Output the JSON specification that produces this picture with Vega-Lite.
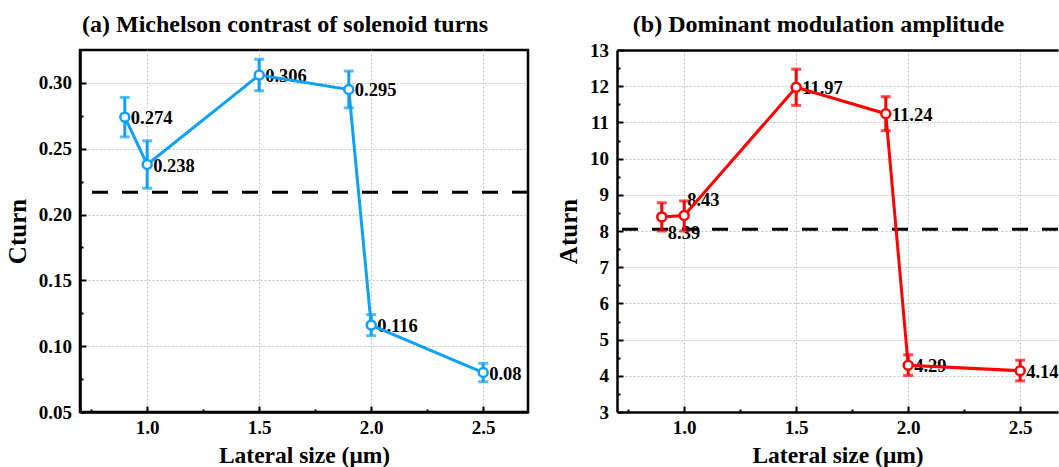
{
  "$schema": "https://vega.github.io/schema/vega-lite/v6.json",
  "background": "white",
  "padding": {"left": 4, "top": 11, "right": 0, "bottom": 0},
  "spacing": 25,
  "datasets": {
    "a": [
      {"x": 0.9, "y": 0.274, "lo": 0.259, "hi": 0.289},
      {"x": 1.0, "y": 0.238, "lo": 0.220, "hi": 0.256},
      {"x": 1.5, "y": 0.306, "lo": 0.294, "hi": 0.318},
      {"x": 1.9, "y": 0.295, "lo": 0.281, "hi": 0.309},
      {"x": 2.0, "y": 0.116, "lo": 0.108, "hi": 0.124},
      {"x": 2.5, "y": 0.08, "lo": 0.073, "hi": 0.087}
    ],
    "b": [
      {"x": 0.9, "y": 8.39, "lo": 8.0, "hi": 8.78},
      {"x": 1.0, "y": 8.43, "lo": 8.0, "hi": 8.83},
      {"x": 1.5, "y": 11.97, "lo": 11.47, "hi": 12.47},
      {"x": 1.9, "y": 11.24, "lo": 10.77, "hi": 11.71},
      {"x": 2.0, "y": 4.29, "lo": 4.01, "hi": 4.58},
      {"x": 2.5, "y": 4.14, "lo": 3.86, "hi": 4.43}
    ]
  },
  "config": {
    "font": "Liberation Serif",
    "view": {"stroke": "black", "strokeWidth": 2.5},
    "axis": {
      "labelFont": "Liberation Serif", "labelFontWeight": "bold", "labelFontSize": 19, "labelColor": "black",
      "titleFont": "Liberation Serif", "titleFontWeight": "bold", "titleFontSize": 23.5, "titleColor": "black",
      "domainColor": "black", "domainWidth": 2.5, "tickColor": "black", "tickWidth": 2,
      "gridColor": "#c4c4c4", "gridDash": [2, 2], "gridWidth": 1,
      "labelOverlap": false, "labelBound": false
    },
    "axisY": {"titleFontSize": 25},
    "title": {"font": "Liberation Serif", "fontSize": 24, "fontWeight": "bold", "color": "black", "anchor": "middle", "dx": -19}
  },
  "hconcat": [
    {
      "width": 448,
      "height": 362,
      "title": {"text": "(a) Michelson contrast of solenoid turns", "offset": 13},
      "data": {"name": "a"},
      "resolve": {"axis": {"x": "independent", "y": "independent"}},
      "layer": [
        {
          "mark": {"type": "text", "align": "left", "baseline": "middle", "dx": 6, "dy": 1, "fontSize": 18.5, "fontWeight": "bold", "font": "Liberation Serif", "color": "black"},
          "encoding": {
            "x": {"field": "x", "type": "quantitative", "axis": null},
            "y": {"field": "y", "type": "quantitative", "axis": null},
            "text": {"field": "y", "type": "nominal"}
          }
        },
        {
          "data": {"values": [{"ref": 0.217}]},
          "mark": {"type": "rule", "strokeDash": [16, 14], "strokeWidth": 3, "color": "black"},
          "encoding": {"y": {"field": "ref", "type": "quantitative", "axis": null}}
        },
        {
          "mark": {"type": "errorbar", "ticks": {"size": 10, "thickness": 3}, "thickness": 3, "color": "#10A0F5"},
          "encoding": {
            "x": {"field": "x", "type": "quantitative", "axis": null},
            "y": {"field": "lo", "type": "quantitative", "axis": null},
            "y2": {"field": "hi"}
          }
        },
        {
          "mark": {"type": "line", "color": "#10A0F5", "strokeWidth": 3},
          "encoding": {
            "x": {
              "field": "x", "type": "quantitative",
              "scale": {"domain": [0.7, 2.7], "nice": false, "zero": false},
              "axis": {
                "orient": "bottom", "title": "Lateral size (μm)", "grid": true,
                "values": [1.0, 1.5, 2.0, 2.5], "format": ".1f",
                "tickSize": -6, "labelPadding": 12.5, "titlePadding": 6
              }
            },
            "y": {
              "field": "y", "type": "quantitative",
              "scale": {"domain": [0.05, 0.325], "nice": false, "zero": false},
              "axis": {
                "orient": "left", "title": "Cturn", "grid": true,
                "values": [0.05, 0.1, 0.15, 0.2, 0.25, 0.3], "format": ".2f",
                "tickSize": -6, "labelPadding": 14.5, "titlePadding": 8
              }
            }
          }
        },
        {
          "mark": {"type": "point", "shape": "circle", "filled": true, "fill": "white", "stroke": "#10A0F5", "strokeWidth": 2.5, "size": 80, "opacity": 1},
          "encoding": {
            "x": {"field": "x", "type": "quantitative",
              "axis": {"orient": "bottom", "values": [0.75, 1.25, 1.75, 2.25], "tickSize": -3, "labels": false, "domain": false, "grid": false, "title": null}},
            "y": {"field": "y", "type": "quantitative",
              "axis": {"orient": "left", "values": [0.075, 0.125, 0.175, 0.225, 0.275], "tickSize": -3, "labels": false, "domain": false, "grid": false, "title": null}}
          }
        }
      ]
    },
    {
      "width": 441,
      "height": 362,
      "title": {"text": "(b) Dominant modulation amplitude", "offset": 4},
      "view": {"stroke": null},
      "data": {"name": "b"},
      "resolve": {"axis": {"x": "independent", "y": "independent"}},
      "layer": [
        {
          "transform": [{"filter": "datum.x > 1.05"}],
          "mark": {"type": "text", "align": "left", "baseline": "middle", "dx": 6, "dy": 1, "fontSize": 18.5, "fontWeight": "bold", "font": "Liberation Serif", "color": "black"},
          "encoding": {
            "x": {"field": "x", "type": "quantitative", "axis": {"orient": "top", "labels": false, "ticks": false, "grid": false, "title": null, "domain": true, "domainWidth": 2.5, "domainColor": "black"}},
            "y": {"field": "y", "type": "quantitative", "axis": null},
            "text": {"field": "y", "type": "nominal"}
          }
        },
        {
          "transform": [{"filter": "datum.x > 0.95 && datum.x < 1.05"}],
          "mark": {"type": "text", "align": "left", "baseline": "middle", "dx": 3, "dy": -15, "fontSize": 18.5, "fontWeight": "bold", "font": "Liberation Serif", "color": "black"},
          "encoding": {
            "x": {"field": "x", "type": "quantitative", "axis": null},
            "y": {"field": "y", "type": "quantitative", "axis": null},
            "text": {"field": "y", "type": "nominal"}
          }
        },
        {
          "transform": [{"filter": "datum.x < 0.95"}],
          "mark": {"type": "text", "align": "left", "baseline": "middle", "dx": 6, "dy": 16, "fontSize": 18.5, "fontWeight": "bold", "font": "Liberation Serif", "color": "black"},
          "encoding": {
            "x": {"field": "x", "type": "quantitative", "axis": null},
            "y": {"field": "y", "type": "quantitative", "axis": null},
            "text": {"field": "y", "type": "nominal"}
          }
        },
        {
          "data": {"values": [{"ref": 8.05}]},
          "mark": {"type": "rule", "strokeDash": [16, 14], "strokeWidth": 3, "color": "black"},
          "encoding": {"y": {"field": "ref", "type": "quantitative", "axis": null}}
        },
        {
          "mark": {"type": "errorbar", "ticks": {"size": 10, "thickness": 3}, "thickness": 3, "color": "#FF0000"},
          "encoding": {
            "x": {"field": "x", "type": "quantitative", "axis": null},
            "y": {"field": "lo", "type": "quantitative", "axis": null},
            "y2": {"field": "hi"}
          }
        },
        {
          "mark": {"type": "line", "color": "#FF0000", "strokeWidth": 3},
          "encoding": {
            "x": {
              "field": "x", "type": "quantitative",
              "scale": {"domain": [0.7, 2.6688], "nice": false, "zero": false},
              "axis": {
                "orient": "bottom", "title": "Lateral size (μm)", "grid": true,
                "values": [1.0, 1.5, 2.0, 2.5], "format": ".1f",
                "tickSize": -6, "labelPadding": 12.5, "titlePadding": 6
              }
            },
            "y": {
              "field": "y", "type": "quantitative",
              "scale": {"domain": [3, 13], "nice": false, "zero": false},
              "axis": {
                "orient": "left", "title": "Aturn", "grid": true,
                "values": [3, 4, 5, 6, 7, 8, 9, 10, 11, 12, 13], "format": "d",
                "tickSize": -6, "labelPadding": 14.5, "titlePadding": 8
              }
            }
          }
        },
        {
          "mark": {"type": "point", "shape": "circle", "filled": true, "fill": "white", "stroke": "#FF0000", "strokeWidth": 2.5, "size": 80, "opacity": 1},
          "encoding": {
            "x": {"field": "x", "type": "quantitative",
              "axis": {"orient": "bottom", "values": [0.75, 1.25, 1.75, 2.25], "tickSize": -3, "labels": false, "domain": false, "grid": false, "title": null}},
            "y": {"field": "y", "type": "quantitative",
              "axis": {"orient": "left", "values": [3.5, 4.5, 5.5, 6.5, 7.5, 8.5, 9.5, 10.5, 11.5, 12.5], "tickSize": -3, "labels": false, "domain": false, "grid": false, "title": null}}
          }
        }
      ]
    }
  ]
}
